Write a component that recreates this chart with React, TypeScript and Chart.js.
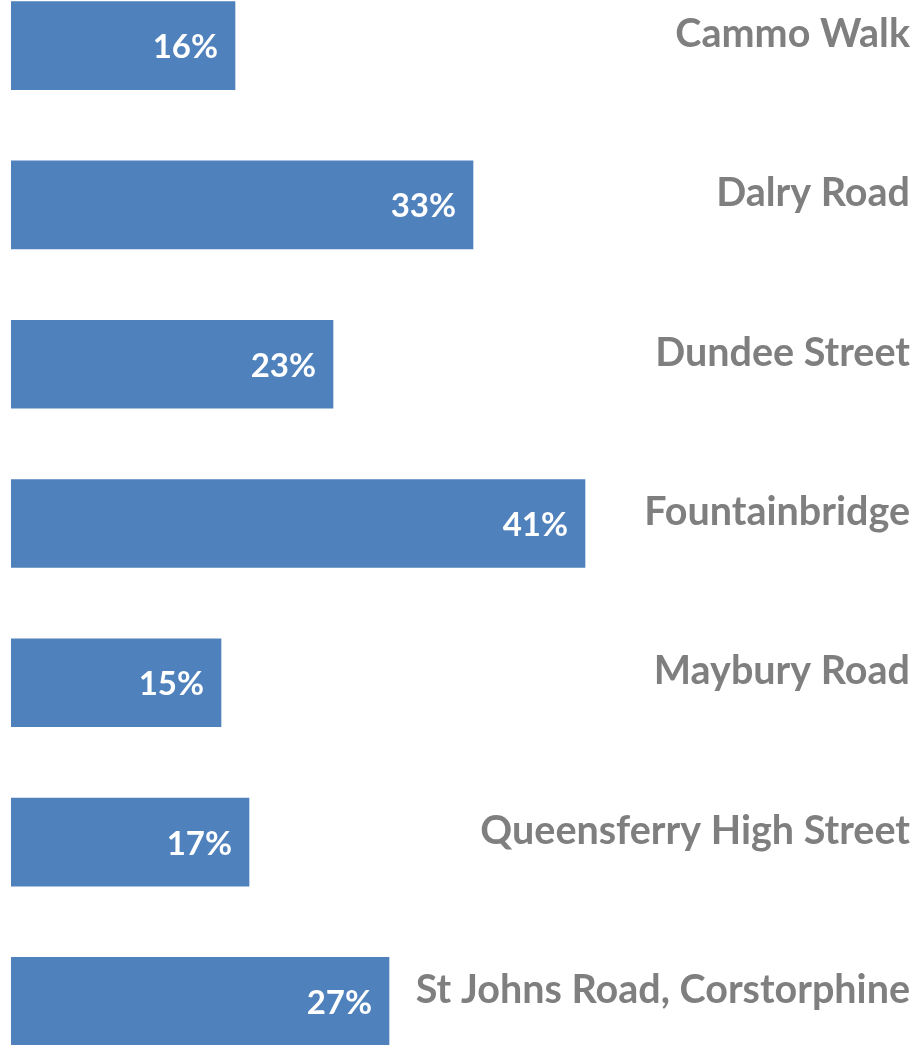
import React, { useEffect, useRef } from "react";
import { Chart, registerables } from "chart.js";

Chart.register(...registerables);

const categories = [
  "Cammo Walk",
  "Dalry Road",
  "Dundee Street",
  "Fountainbridge",
  "Maybury Road",
  "Queensferry High Street",
  "St Johns Road, Corstorphine",
];
const values = [16, 33, 23, 41, 15, 17, 27];
const valueLabels = ["16%", "33%", "23%", "41%", "15%", "17%", "27%"];

const BAR_COLOR = "#4F81BD";
const TEXT_COLOR = "#7F7F7F";
const FONT = "Lato";

const labelPlugin = {
  id: "labelPlugin",
  afterDatasetsDraw(chart: any) {
    const ctx = chart.ctx;
    const yScale = chart.scales.y;
    const area = chart.chartArea;
    const meta = chart.getDatasetMeta(0);
    ctx.save();
    // category labels
    ctx.font = `bold 39.5px ${FONT}`;
    ctx.fillStyle = TEXT_COLOR;
    ctx.textAlign = "right";
    ctx.textBaseline = "alphabetic";
    chart.data.labels.forEach((lab: string, i: number) => {
      const y = yScale.getPixelForValue(i);
      ctx.fillText(lab, area.right - 7, y + 1.5);
    });
    // value labels
    ctx.font = `bold 33px ${FONT}`;
    ctx.fillStyle = "#FFFFFF";
    meta.data.forEach((bar: any, i: number) => {
      ctx.fillText(valueLabels[i], bar.x - 17, bar.y + 12.5);
    });
    ctx.restore();
  },
};

export default function App() {
  const ref = useRef<HTMLCanvasElement>(null);
  useEffect(() => {
    document.body.style.margin = "0";
    const chart = new Chart(ref.current!, {
      type: "bar",
      data: {
        labels: categories,
        datasets: [
          {
            data: values,
            backgroundColor: BAR_COLOR,
            borderWidth: 0,
            barThickness: 88,
          },
        ],
      },
      options: {
        indexAxis: "y",
        responsive: false,
        animation: false,
        maintainAspectRatio: false,
        layout: { padding: { left: 11, right: 0, top: 0, bottom: 0 } },
        plugins: { legend: { display: false }, tooltip: { enabled: false } },
        scales: {
          x: { display: false, min: 0, max: 906 / 14 },
          y: { display: false, offset: true },
        },
      },
      plugins: [labelPlugin],
    });
    return () => chart.destroy();
  }, []);
  return (
    <div style={{ position: "fixed", left: 0, top: -34, width: 917, height: 1115 }}>
      <canvas ref={ref} width={917} height={1115} style={{ width: 917, height: 1115 }} />
    </div>
  );
}
